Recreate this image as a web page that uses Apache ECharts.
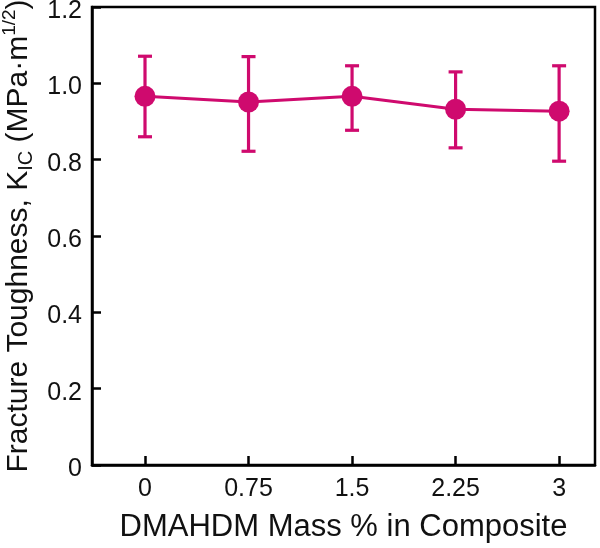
<!DOCTYPE html>
<html><head><meta charset="utf-8">
<script src="https://cdn.jsdelivr.net/npm/echarts@6/dist/echarts.min.js"></script>
<style>html,body{margin:0;padding:0;background:#fff}#c{width:600px;height:548px}</style>
</head><body><div id="c"></div>
<script>
const xValues = [0, 0.75, 1.5, 2.25, 3];
const xLabels = ['0', '0.75', '1.5', '2.25', '3'];
const kic = [0.966, 0.951, 0.966, 0.932, 0.927];
const errLow = [0.860, 0.822, 0.877, 0.831, 0.796];
const errHigh = [1.071, 1.070, 1.046, 1.030, 1.046];
const yTicks = [0, 0.2, 0.4, 0.6, 0.8, 1.0, 1.2];

const color = '#cf0a6e';
const font = 'Liberation Sans, Arial, sans-serif';
const chart = echarts.init(document.getElementById('c'));
chart.setOption({
  animation: false,
  grid: {left: 92, right: 5, top: 7, bottom: 83, containLabel: false, outerBoundsMode: 'none',
    show: true, borderColor: '#000', borderWidth: 2.5, backgroundColor: 'transparent'},
  xAxis: {
    type: 'value', min: -0.384, max: 3.26,
    name: 'DMAHDM Mass % in Composite', nameLocation: 'middle', nameGap: 47,
    nameTextStyle: {fontFamily: font, fontSize: 31, color: '#111'},
    axisLine: {show: true, onZero: false, lineStyle: {color: '#000', width: 2.5}},
    axisTick: {show: true, inside: true, length: 9, lineStyle: {color: '#000', width: 2.5}, customValues: xValues},
    axisLabel: {fontFamily: font, fontSize: 25, color: '#111', margin: 12, customValues: xValues,
      formatter: v => { const i = xValues.indexOf(v); return i >= 0 ? xLabels[i] : ''; }},
    splitLine: {show: false}
  },
  yAxis: {
    type: 'value', min: 0, max: 1.2, interval: 0.2,
    name: '{a|Fracture Toughness, K}{sub|IC}{a| (MPa·m}{sup|1/2}{a|)}',
    nameLocation: 'middle', nameGap: 54,
    nameTextStyle: {
      rich: {
        a: {fontFamily: font, fontSize: 30, color: '#111', lineHeight: 36, verticalAlign: 'middle'},
        sub: {fontFamily: font, fontSize: 20, color: '#111', lineHeight: 36, verticalAlign: 'bottom', padding: [12, 0, 0, 0]},
        sup: {fontFamily: font, fontSize: 19, color: '#111', lineHeight: 36, verticalAlign: 'top', padding: [0, 0, 10, 0]}
      }
    },
    axisLine: {show: true, onZero: false, lineStyle: {color: '#000', width: 2.5}},
    axisTick: {show: true, inside: true, length: 9, lineStyle: {color: '#000', width: 2.5}},
    axisLabel: {margin: 10,
      rich: {v: {fontFamily: font, fontSize: 25, color: '#111', lineHeight: 26, padding: [8, 0, 0, 0]}},
      formatter: v => { const t = yTicks.find(x => Math.abs(x - v) < 1e-9); return '{v|' + (t === 0 ? '0' : t.toFixed(1)) + '}'; }},
    splitLine: {show: false}
  },
  series: [
    {
      type: 'custom',
      renderItem: function (params, api) {
        const x = api.value(0), lo = api.value(1), hi = api.value(2);
        const pLo = api.coord([x, lo]), pHi = api.coord([x, hi]);
        const w = 7;
        const st = {stroke: color, lineWidth: 3.2};
        return {type: 'group', children: [
          {type: 'line', shape: {x1: pLo[0], y1: pLo[1], x2: pHi[0], y2: pHi[1]}, style: st},
          {type: 'line', shape: {x1: pLo[0] - w, y1: pLo[1], x2: pLo[0] + w, y2: pLo[1]}, style: st},
          {type: 'line', shape: {x1: pHi[0] - w, y1: pHi[1], x2: pHi[0] + w, y2: pHi[1]}, style: st}
        ]};
      },
      data: xValues.map((x, i) => [x, errLow[i], errHigh[i]]),
      z: 2
    },
    {
      type: 'line',
      data: xValues.map((x, i) => [x, kic[i]]),
      symbol: 'circle', symbolSize: 21,
      itemStyle: {color: color},
      lineStyle: {color: color, width: 3},
      z: 3
    }
  ]
});
</script></body></html>
